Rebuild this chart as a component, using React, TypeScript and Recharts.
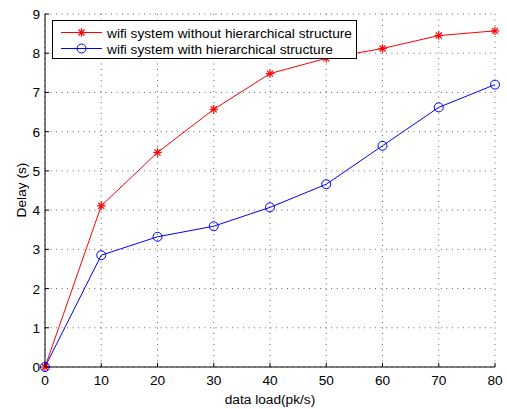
import React from 'react';
import { LineChart, Line, XAxis, YAxis, CartesianGrid } from 'recharts';

const loads = [0, 10, 20, 30, 40, 50, 60, 70, 80];
const withoutHier = [0, 4.11, 5.47, 6.57, 7.48, 7.87, 8.12, 8.45, 8.57];
const withHier = [0, 2.85, 3.32, 3.59, 4.07, 4.66, 5.64, 6.62, 7.2];
const xTicks = [0, 10, 20, 30, 40, 50, 60, 70, 80];
const yTicks = [0, 1, 2, 3, 4, 5, 6, 7, 8, 9];
const seriesNames = ['wifi system without hierarchical structure', 'wifi system with hierarchical structure'];
const xLabel = 'data load(pk/s)';
const yLabel = 'Delay (s)';

const data = loads.map((x, i) => ({ x, a: withoutHier[i], b: withHier[i] }));

const FONT = 'Liberation Sans, Arial, Helvetica, sans-serif';
const FS = 13.7;
const RED = '#ff0000';
const BLUE = '#0000ff';

const Star = ({ cx, cy, color }: any) => {
  const r = 4.2;
  const d = r * 0.72;
  return (
    <g stroke={color} strokeWidth={1.2} fill="none">
      <line x1={cx - r} y1={cy} x2={cx + r} y2={cy} />
      <line x1={cx} y1={cy - r} x2={cx} y2={cy + r} />
      <line x1={cx - d} y1={cy - d} x2={cx + d} y2={cy + d} />
      <line x1={cx - d} y1={cy + d} x2={cx + d} y2={cy - d} />
    </g>
  );
};

const Circ = ({ cx, cy, color }: any) => (
  <circle cx={cx} cy={cy} r={4.5} stroke={color} strokeWidth={1} fill="none" />
);

const XTick = (props: any) => {
  const { x, y, payload } = props;
  return (
    <g>
      <line x1={x} y1={y} x2={x} y2={y - 4} stroke="#000" />
      <text x={x} y={y + 18} textAnchor="middle" fontSize={FS} fontFamily={FONT} fill="#000">
        {payload.value}
      </text>
    </g>
  );
};

const YTick = (props: any) => {
  const { x, y, payload } = props;
  return (
    <g>
      <line x1={x} y1={y} x2={x + 4} y2={y} stroke="#000" />
      <text x={x - 5} y={y + 5} textAnchor="end" fontSize={FS} fontFamily={FONT} fill="#000">
        {payload.value}
      </text>
    </g>
  );
};

const LegendBox = () => (
  <div
    style={{
      position: 'absolute',
      left: 52,
      top: 20,
      width: 303,
      height: 37,
      border: '1px solid #000',
      background: '#fff',
    }}
  >
    <svg width={303} height={37} style={{ position: 'absolute', left: 0, top: 0 }}>
      <line x1={8} y1={11.5} x2={49} y2={11.5} stroke={RED} />
      <Star cx={28.5} cy={11.5} color={RED} />
      <text x={54} y={16.5} fontSize={FS} fontFamily={FONT} fill="#000">{seriesNames[0]}</text>
      <line x1={8} y1={27.5} x2={49} y2={27.5} stroke={BLUE} />
      <Circ cx={28.5} cy={27.5} color={BLUE} />
      <text x={54} y={32.5} fontSize={FS} fontFamily={FONT} fill="#000">{seriesNames[1]}</text>
    </svg>
  </div>
);

export default function App() {
  return (
    <div style={{ position: 'absolute', left: 0, top: 0, width: 507, height: 409, background: '#fff' }}>
      <LineChart width={507} height={409} data={data} margin={{ top: 14, right: 12, bottom: 0, left: 0 }}>
        <CartesianGrid stroke="#666" strokeDasharray="1 4.5" />
        <XAxis
          dataKey="x"
          type="number"
          domain={[0, 80]}
          ticks={xTicks}
          interval={0}
          height={42}
          tickSize={0}
          tickMargin={0}
          tickLine={false}
          axisLine={{ stroke: '#000' }}
          tick={<XTick />}
          label={{ value: xLabel, position: 'insideBottom', offset: 5, fontSize: FS, fontFamily: FONT, fill: '#000' }}
        />
        <YAxis
          type="number"
          domain={[0, 9]}
          ticks={yTicks}
          interval={0}
          width={45}
          tickSize={0}
          tickMargin={0}
          tickLine={false}
          axisLine={{ stroke: '#000' }}
          tick={<YTick />}
          label={{
            content: () => (
              <text x={21} y={190} transform="rotate(-90 21 190)" textAnchor="middle" dominantBaseline="central" fontSize={FS} fontFamily={FONT} fill="#000">
                {yLabel}
              </text>
            ),
          }}
        />
        <Line
          dataKey="a"
          name={seriesNames[0]}
          stroke={RED}
          strokeWidth={1}
          isAnimationActive={false}
          dot={(p: any) => <Star key={'a' + p.index} cx={p.cx} cy={p.cy} color={RED} />}
          activeDot={false}
        />
        <Line
          dataKey="b"
          name={seriesNames[1]}
          stroke={BLUE}
          strokeWidth={1}
          isAnimationActive={false}
          dot={(p: any) => <Circ key={'b' + p.index} cx={p.cx} cy={p.cy} color={BLUE} />}
          activeDot={false}
        />
      </LineChart>
      <LegendBox />
    </div>
  );
}
